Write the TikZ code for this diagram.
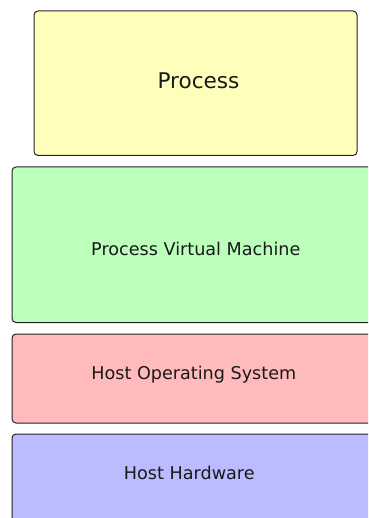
\documentclass[tikz,border=0pt]{standalone}
\usepackage{fontspec}
\setmainfont{DejaVu Sans}
\definecolor{procY}{HTML}{FFFFBB}
\definecolor{vmG}{HTML}{BBFFBB}
\definecolor{osR}{HTML}{FFBBBB}
\definecolor{hwB}{HTML}{BBBBFF}
\definecolor{edge}{HTML}{222222}
\begin{document}
\begin{tikzpicture}[x=1pt,y=-1pt,
  layerbox/.style={draw=edge, line width=1pt, rounded corners=4pt, inner sep=0pt, outer sep=0pt},
  smalllabel/.style={anchor=base, inner sep=0pt, font=\fontsize{17.6}{20}\selectfont, text=black!90},
  biglabel/.style={anchor=base, inner sep=0pt, font=\fontsize{21.6}{24}\selectfont, text=black!90}]
\useasboundingbox (0,0) rectangle (368,518);
\clip (0,0) rectangle (368,518);
\node[layerbox, fill=procY, minimum width=323pt, minimum height=144.5pt] (proc) at (195.5,83.25) {};
\node[layerbox, fill=vmG, minimum width=368pt, minimum height=155.5pt] (pvm) at (196,244.75) {};
\node[layerbox, fill=osR, minimum width=368pt, minimum height=89pt] (hos) at (196,378.5) {};
\node[layerbox, fill=hwB, minimum width=368pt, minimum height=96pt] (hw) at (196,482) {};
\node[biglabel] (proct) at (198.5,88.3) {Process};
\node[smalllabel] (pvmt) at (195.8,255.7) {Process Virtual Machine};
\node[smalllabel] (host) at (193.8,379.3) {Host Operating System};
\node[smalllabel] (hwt) at (189.3,479) {Host Hardware};
\end{tikzpicture}
\end{document}
